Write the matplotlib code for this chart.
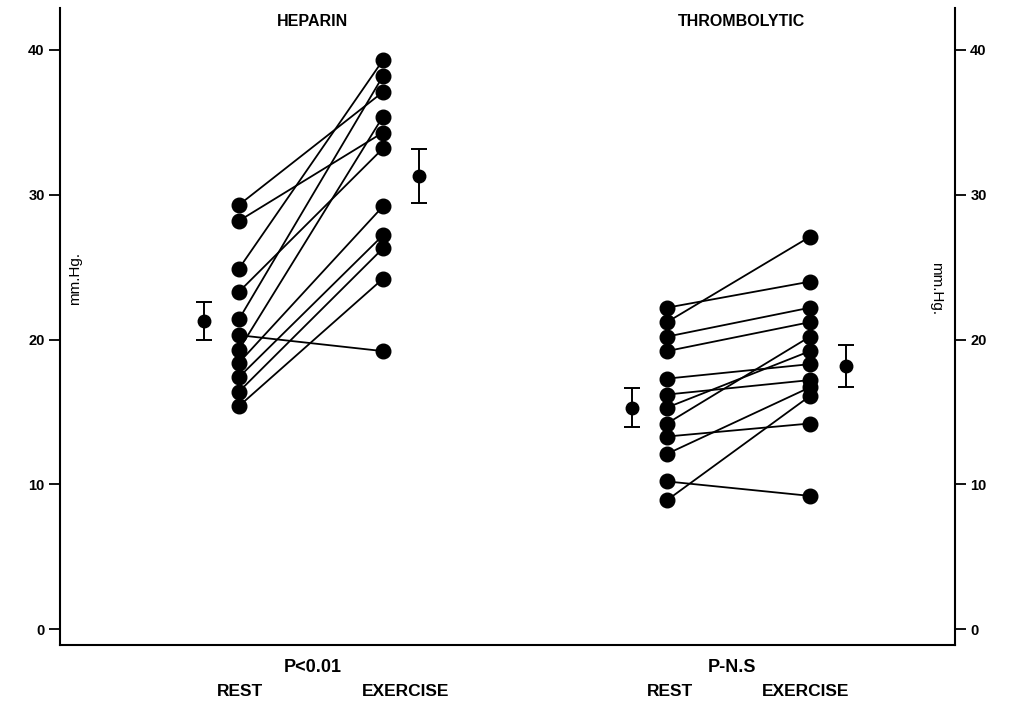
import matplotlib.pyplot as plt
import matplotlib.transforms as mtransforms

# heparin group: rest -> exercise (mm Hg), one pair per patient
hep_rest = [29.3, 28.2, 24.9, 23.3, 21.4, 20.3, 19.3, 18.4, 17.4, 16.4, 15.4]
hep_ex = [37.1, 34.3, 39.3, 33.2, 38.2, 19.2, 35.4, 29.2, 27.2, 26.3, 24.2]
hep_mean = [21.3, 31.3]
hep_err = [1.3, 1.85]

# thrombolytic group
thr_rest = [22.2, 21.2, 20.2, 19.2, 17.3, 16.2, 15.3, 14.2, 13.3, 12.1, 10.2, 8.9]
thr_ex = [24.0, 27.1, 22.2, 21.2, 18.3, 17.2, 19.2, 20.2, 14.2, 16.7, 9.2, 16.1]
thr_mean = [15.3, 18.2]
thr_err = [1.35, 1.45]

yticks = [0, 10, 20, 30, 40]

# layout (x positions in axis units, 0..895)
hep_x = (179, 323)
hep_mx = (144, 359)
thr_x = (607, 750)
thr_mx = (572, 786)

plt.rcParams['font.family'] = ['Liberation Sans', 'DejaVu Sans']
fig = plt.figure(figsize=(10.13, 7.03), dpi=100)
ax = fig.add_axes([0.0592, 0.0825, 0.8835, 0.9061])
ax.set_xlim(0, 895)
ax.set_ylim(-1.1, 42.9)

def draw_group(x, rest, ex, mx, mean, err):
    for r, e in zip(rest, ex):
        ax.plot(x, [r, e], color='black', lw=1.3, marker='o', ms=10.5, mfc='black', mec='black', zorder=3)
    ax.errorbar(mx, mean, yerr=err, fmt='o', color='black', ms=9, capsize=5.5, elinewidth=1.4, capthick=1.4)

draw_group(hep_x, hep_rest, hep_ex, hep_mx, hep_mean, hep_err)
draw_group(thr_x, thr_rest, thr_ex, thr_mx, thr_mean, thr_err)

ax.spines['top'].set_visible(False)
for s in ['left', 'right', 'bottom']:
    ax.spines[s].set_linewidth(1.5)
ax.set_xticks([])
ax.set_yticks(yticks)
ax.tick_params(axis='y', left=True, right=True, labelleft=True, labelright=True,
               length=8, width=1.3, labelsize=10.5, pad=3)
for lbl in ax.get_yticklabels():
    lbl.set_fontweight('bold')

ax.text(15, 24.2, 'mm.Hg.', rotation=90, ha='center', va='center', fontsize=11)
ax.text(876, 23.5, 'mm.Hg.', rotation=270, ha='center', va='center', fontsize=11)

ax.text(253, 42.0, 'HEPARIN', ha='center', va='center', fontsize=11.5, fontweight='bold')
ax.text(682, 42.0, 'THROMBOLYTIC', ha='center', va='center', fontsize=11.5, fontweight='bold')

trans = mtransforms.blended_transform_factory(ax.transData, fig.transFigure)
ax.text(253, 1 - 667 / 703, 'P<0.01', transform=trans, ha='center', va='center', fontsize=13, fontweight='bold')
ax.text(672, 1 - 667 / 703, 'P-N.S', transform=trans, ha='center', va='center', fontsize=13, fontweight='bold')
for xr, xe in [(180, 346), (610, 746)]:
    ax.text(xr, 1 - 692 / 703, 'REST', transform=trans, ha='center', va='center', fontsize=12.5, fontweight='bold')
    ax.text(xe, 1 - 692 / 703, 'EXERCISE', transform=trans, ha='center', va='center', fontsize=12.5, fontweight='bold')

fig.savefig('out.png', dpi=100)
